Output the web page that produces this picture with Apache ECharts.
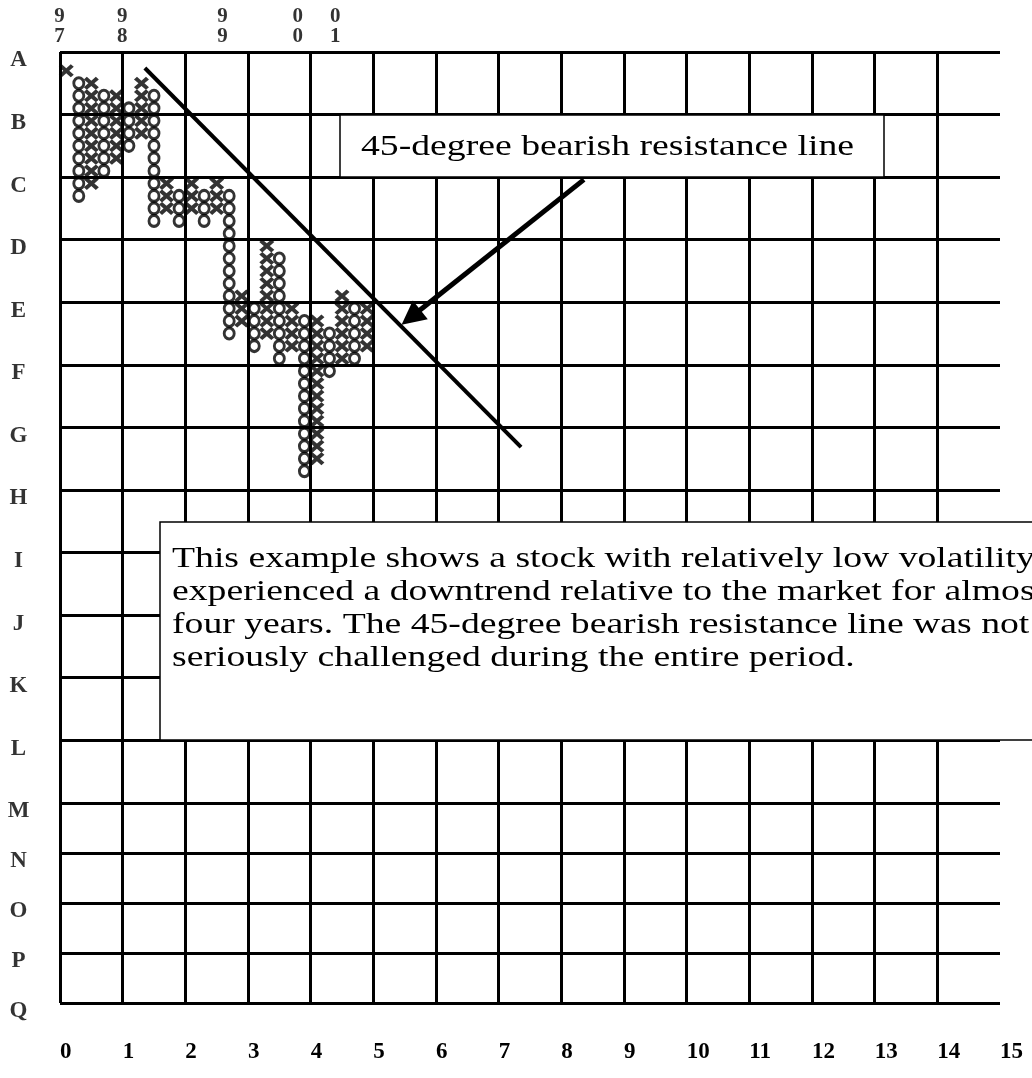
<!DOCTYPE html>
<html>
<head>
<meta charset="utf-8">
<script src="https://cdn.jsdelivr.net/npm/echarts@6/dist/echarts.min.js"></script>
<style>
  html, body { margin: 0; padding: 0; background: #ffffff; }
  #chart { width: 1032px; height: 1078px; }
</style>
</head>
<body>
<div id="chart"></div>
<script>
// ---------------- DATA ----------------
// Row letters on the left and their level (in boxes below the top line)
const rowLabels = ['A','B','C','D','E','F','G','H','I','J','K','L','M','N','O','P','Q'];
const rowLevels = [0, 5, 10, 15, 20, 25, 30, 35, 40, 45, 50, 55, 60, 64, 68, 72, 76];
// Bottom tick labels (grid units, 5 chart columns per unit)
const colTicks = [0, 1, 2, 3, 4, 5, 6, 7, 8, 9, 10, 11, 12, 13, 14, 15];
// Year markers on top, placed at the left edge of a P&F column
const yearLabels = ['9\n7', '9\n8', '9\n9', '0\n0', '0\n1'];
const yearCols = [0, 5, 13, 19, 22];
// Point & figure columns: [column index, top box, bottom box]
const xColumns = [
  [0, 1, 1], [2, 2, 10], [4, 3, 8], [6, 2, 6], [8, 10, 12], [10, 10, 12],
  [12, 10, 12], [14, 19, 21], [16, 15, 22], [18, 20, 23], [20, 21, 32],
  [22, 19, 24], [24, 20, 23]
];
const oColumns = [
  [1, 2, 11], [3, 3, 9], [5, 4, 7], [7, 3, 13], [9, 11, 13], [11, 11, 13],
  [13, 11, 22], [15, 20, 23], [17, 16, 24], [19, 21, 33], [21, 22, 25],
  [23, 20, 24]
];
// 45-degree bearish resistance line (x in grid units, y in boxes)
const resistanceLine = [[1.354, 1.28], [7.357, 31.57]];
// Callout arrow (start, tip)
const arrowLine = [[8.36, 10.2], [5.6, 21.2]];
const calloutText = '45-degree bearish resistance line';
const noteLines = [
  'This example shows a stock with relatively low volatility',
  'experienced a downtrend relative to the market for almost',
  'four years. The 45-degree bearish resistance line was not',
  'seriously challenged during the entire period.'
];

// ---------------- CHART ----------------
const BOXES_PER_UNIT = 5;
function columnPoints(cols) {
  const pts = [];
  cols.forEach(function (c) {
    for (let k = c[1]; k <= c[2]; k++) pts.push([(c[0] + 0.5) / BOXES_PER_UNIT, k + 0.5]);
  });
  return pts;
}
const vLines = colTicks.slice(0, colTicks.length - 1);
const serif = '"Liberation Serif", "Times New Roman", serif';

const chart = echarts.init(document.getElementById('chart'), null, { renderer: 'canvas' });
chart.setOption({
  animation: false,
  backgroundColor: '#ffffff',
  grid: { left: 60, right: 32, top: 52, bottom: 75, containLabel: false },
  xAxis: {
    type: 'value', min: 0, max: 15, interval: 1,
    axisLine: { show: false }, axisTick: { show: false }, splitLine: { show: false },
    axisLabel: {
      show: true, align: 'left', margin: 38, color: '#000',
      fontFamily: serif, fontWeight: 'bold', fontSize: 23
    }
  },
  yAxis: {
    type: 'value', min: 0, max: 76, inverse: true,
    axisLine: { show: false }, axisTick: { show: false }, splitLine: { show: false },
    axisLabel: { show: false }
  },
  series: [
    {
      type: 'line', data: [], silent: true, z: 1,
      markLine: {
        silent: true, symbol: ['none', 'none'], label: { show: false },
        lineStyle: { color: '#000', width: 3, type: 'solid' },
        emphasis: { disabled: true },
        data: rowLevels.map(function (v) { return { yAxis: v }; })
          .concat(vLines.map(function (v) { return { xAxis: v }; }))
      }
    },
    {
      type: 'scatter', name: 'X', z: 3, clip: false, silent: true,
      symbol: 'path://M0,2 L2,0 L5,3 L8,0 L10,2 L7,5 L10,8 L8,10 L5,7 L2,10 L0,8 L3,5 Z',
      symbolSize: [15, 13],
      itemStyle: { color: '#000' },
      data: columnPoints(xColumns)
    },
    {
      type: 'scatter', name: 'O', z: 4, clip: false, silent: true,
      symbol: 'circle', symbolSize: [10, 11],
      itemStyle: { color: '#fff', borderColor: '#000', borderWidth: 3 },
      data: columnPoints(oColumns)
    },
    {
      type: 'line', z: 5, silent: true, symbol: 'none',
      lineStyle: { color: '#000', width: 4 },
      data: resistanceLine
    },
    {
      type: 'lines', coordinateSystem: 'cartesian2d', z: 6, silent: true,
      symbol: ['none', 'triangle'], symbolSize: 24,
      lineStyle: { color: '#000', width: 5, opacity: 1, curveness: 0 },
      data: [{ coords: arrowLine }]
    },
    {
      type: 'scatter', z: 7, clip: false, silent: true,
      symbolSize: 1, itemStyle: { color: 'rgba(0,0,0,0)' },
      label: {
        show: true, formatter: '{b}', position: [-41, 9], align: 'center', verticalAlign: 'middle',
        color: '#000', fontFamily: serif, fontWeight: 'bold', fontSize: 23
      },
      data: rowLevels.map(function (v, i) { return { name: rowLabels[i], value: [0, v] }; })
    },
    {
      type: 'scatter', z: 7, clip: false, silent: true,
      symbolSize: 1, itemStyle: { color: 'rgba(0,0,0,0)' },
      label: {
        show: true, formatter: '{b}', position: [0, -25], align: 'center', verticalAlign: 'middle',
        color: '#000', fontFamily: serif, fontWeight: 'bold', fontSize: 21, lineHeight: 20
      },
      data: yearCols.map(function (c, i) { return { name: yearLabels[i], value: [c / BOXES_PER_UNIT, 0] }; })
    }
  ],
  graphic: [
    { type: 'rect', z: 100, zlevel: 1, shape: { x: 340, y: 115, width: 544, height: 62 },
      style: { fill: '#fff', stroke: '#000', lineWidth: 1.5 } },
    { type: 'text', z: 101, zlevel: 1, x: 361, y: 147, scaleX: 1.3,
      style: { text: calloutText, font: '29px ' + serif, fill: '#000', verticalAlign: 'middle' } },
    { type: 'rect', z: 100, zlevel: 1, shape: { x: 160, y: 522, width: 900, height: 218 },
      style: { fill: '#fff', stroke: '#000', lineWidth: 1.5 } },
    { type: 'text', z: 101, zlevel: 1, x: 172, y: 543, scaleX: 1.3,
      style: { text: noteLines.join('\n'), font: '29px ' + serif, lineHeight: 33, fill: '#000', verticalAlign: 'top' } }
  ]
});
</script>
</body>
</html>
